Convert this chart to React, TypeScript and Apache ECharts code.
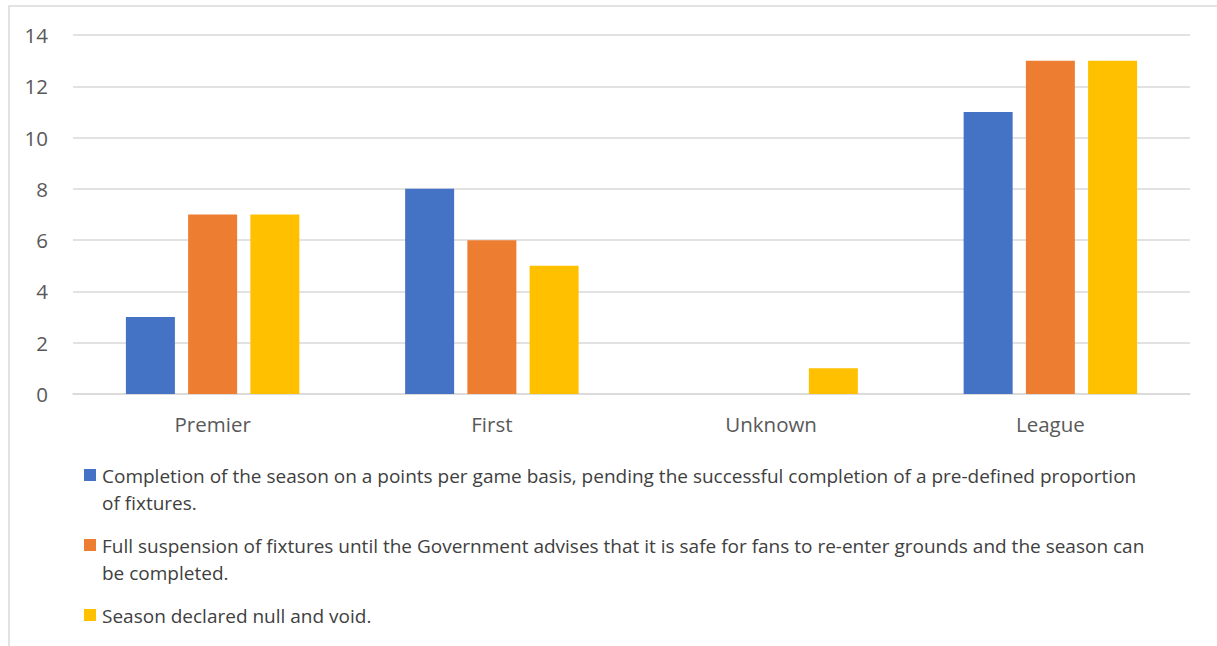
import React, { useEffect, useRef } from "react";
import * as echarts from "echarts";

const categories = ["Premier", "First", "Unknown", "League"];
const seriesNames = [
  "Completion of the season on a points per game basis, pending the successful completion of a pre-defined proportion of fixtures.",
  "Full suspension of fixtures until the Government advises that it is safe for fans to re-enter grounds and the season can be completed.",
  "Season declared null and void.",
];
const seriesColors = ["#4472C4", "#ED7D31", "#FFC000"];
const completionValues = [3, 8, 0, 11];
const suspensionValues = [7, 6, 0, 13];
const nullVoidValues = [7, 5, 1, 13];
const allValues = [completionValues, suspensionValues, nullVoidValues];

const FONT = "'Open Sans', sans-serif";

export default function App() {
  const ref = useRef<HTMLDivElement>(null);
  useEffect(() => {
    if (!ref.current) return;
    const chart = echarts.init(ref.current, undefined, { renderer: "svg" });
    const legendTops = [462, 532, 602];
    const graphic: any[] = [
      {
        type: "rect",
        shape: { x: 9, y: 6, width: 1400, height: 800 },
        style: { fill: "none", stroke: "#d9d9d9", lineWidth: 1.5 },
        silent: true,
      },
    ];
    seriesNames.forEach((name, i) => {
      graphic.push({
        type: "rect",
        shape: { x: 84, y: legendTops[i] + 7, width: 12, height: 12 },
        style: { fill: seriesColors[i] },
      });
      graphic.push({
        type: "text",
        x: 102,
        y: legendTops[i],
        style: {
          text: name,
          width: 1050,
          overflow: "break",
          font: `19px ${FONT}`,
          lineHeight: 27,
          fill: "#404040",
        },
      });
    });
    chart.setOption({
      animation: false,
      textStyle: { fontFamily: FONT },
      grid: { left: 73, right: 27, top: 35, bottom: 252, containLabel: false },
      xAxis: {
        type: "category",
        data: categories,
        axisLine: { lineStyle: { color: "#d9d9d9", width: 1.5 } },
        axisTick: { show: false },
        axisLabel: { color: "#595959", fontSize: 20.5, margin: 19, fontFamily: FONT },
      },
      yAxis: {
        type: "value",
        min: 0,
        max: 14,
        interval: 2,
        axisLine: { show: false },
        axisTick: { show: false },
        splitLine: { lineStyle: { color: "#d9d9d9", width: 1.5 } },
        axisLabel: { color: "#595959", fontSize: 20.5, margin: 25, fontFamily: FONT },
      },
      series: seriesNames.map((name, i) => ({
        type: "bar",
        name,
        data: allValues[i],
        barWidth: 49,
        barGap: "27%",
        itemStyle: { color: seriesColors[i] },
      })),
      graphic,
    });
    return () => chart.dispose();
  }, []);
  return (
    <div
      ref={ref}
      style={{ position: "fixed", left: 0, top: 0, width: 1217, height: 646, background: "#fff" }}
    />
  );
}
